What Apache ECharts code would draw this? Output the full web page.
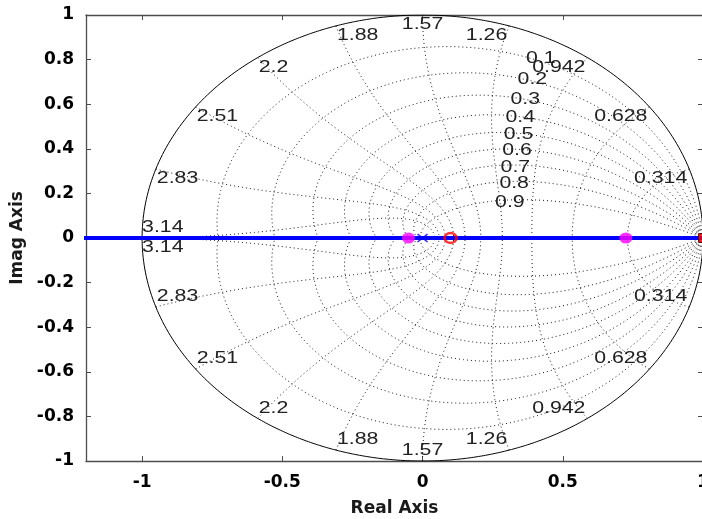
<!DOCTYPE html>
<html>
<head>
<meta charset="utf-8">
<script src="https://cdn.jsdelivr.net/npm/echarts@6/dist/echarts.min.js"></script>
<style>
  html, body { margin: 0; padding: 0; background: #ffffff; }
  #chart { width: 702px; height: 519px; }
</style>
</head>
<body>
<div id="chart"></div>
<script>
// Discrete-time root locus with the z-plane damping / natural-frequency grid.

// Axis ticks
const xTicks = [-1, -0.5, 0, 0.5, 1];
const yTickStep = 0.2;

// Grid: damping ratios and natural frequencies (multiples of pi/10)
const zetaValues = [0.1, 0.2, 0.3, 0.4, 0.5, 0.6, 0.7, 0.8, 0.9];
const wnFactors = [0.1, 0.2, 0.3, 0.4, 0.5, 0.6, 0.7, 0.8, 0.9, 1.0];
const wnLabels = ['0.314', '0.628', '0.942', '1.26', '1.57', '1.88', '2.2', '2.51', '2.83', '3.14'];
// natural frequency along each damping line where its label sits
const zetaLabelWn = [1.15, 1.153, 1.164, 1.176, 1.18, 1.19, 1.21, 1.237, 1.31];

// Root locus branch on the real axis
const locusRe = [-1.25, 1.05];
const locusIm = [0, 0];
// Open-loop pole (x), zero (o), end point (square)
const poleRe = [0];
const zeroRe = [0.1];
const endRe = [1];
// Selected closed-loop poles
const closedLoopRe = [-0.05, 0.725];

const PI = Math.PI;
const AXIS_COLOR = '#4d4d4d';
const DOT_STYLE = { color: '#1a1a1a', width: 1, type: [1, 3] };

function zetaCurve(zeta, sign) {
  const m = zeta / Math.sqrt(1 - zeta * zeta);
  const pts = [];
  const n = 240;
  for (let i = 0; i <= n; i++) {
    const t = PI * i / n;
    const r = Math.exp(-m * t);
    pts.push([r * Math.cos(t), sign * r * Math.sin(t)]);
  }
  return pts;
}

function wnPoint(wn, zeta) {
  const r = Math.exp(-zeta * wn);
  const a = wn * Math.sqrt(1 - zeta * zeta);
  return [r * Math.cos(a), r * Math.sin(a)];
}

function wnCurve(wn, sign) {
  const pts = [];
  const n = 240;
  for (let i = 0; i <= n; i++) {
    const p = wnPoint(wn, i / n);
    pts.push([p[0], sign * p[1]]);
  }
  return pts;
}

function unitCircle() {
  const pts = [];
  for (let i = 0; i <= 720; i++) {
    const a = 2 * PI * i / 720;
    pts.push([Math.cos(a), Math.sin(a)]);
  }
  return pts;
}

const series = [];

function dotted(data) {
  series.push({
    type: 'line', data: data, showSymbol: false, silent: true,
    lineStyle: DOT_STYLE, z: 1
  });
}

zetaValues.forEach(z => { dotted(zetaCurve(z, 1)); dotted(zetaCurve(z, -1)); });
wnFactors.forEach(f => { dotted(wnCurve(f * PI, 1)); dotted(wnCurve(f * PI, -1)); });

series.push({
  type: 'line', data: unitCircle(), showSymbol: false, silent: true,
  lineStyle: { color: '#000000', width: 1 }, z: 2
});

// Grid labels
const gridLabels = [];
zetaValues.forEach((z, i) => {
  const p = wnPoint(zetaLabelWn[i], z);
  gridLabels.push({ pos: p, text: String(z), align: 'left', va: 'middle', dx: 0, dy: 2 });
});
wnFactors.forEach((f, i) => {
  const wn = f * PI;
  const p = wnPoint(wn, 0);
  const text = wnLabels[i];
  let align = 'center', dx = 0;
  if (p[0] > 0.01) { align = 'right'; dx = -2; }
  else if (p[0] < -0.01) { align = 'left'; dx = 1; }
  if (f === 1.0) {
    gridLabels.push({ pos: [p[0], 0], text, align: 'left', va: 'bottom', dx: 0, dy: -2 });
    gridLabels.push({ pos: [p[0], 0], text, align: 'left', va: 'top', dx: 0, dy: 2 });
  } else {
    gridLabels.push({ pos: [p[0], p[1]], text, align, va: 'top', dx, dy: 2 });
    gridLabels.push({ pos: [p[0], -p[1]], text, align, va: 'bottom', dx, dy: -2 });
  }
});

series.push({
  type: 'custom', silent: true, clip: false, z: 6,
  data: gridLabels.map(l => l.pos),
  renderItem: function (params, api) {
    const item = gridLabels[params.dataIndex];
    const c = api.coord([api.value(0), api.value(1)]);
    return {
      type: 'text',
      x: c[0] + item.dx, y: c[1] + item.dy,
      scaleX: 1.33,
      style: {
        text: item.text, fill: '#222222',
        font: '16px "Liberation Sans", Arial, sans-serif',
        align: item.align, verticalAlign: item.va
      }
    };
  }
});

// Locus branch
series.push({
  type: 'line', data: locusRe.map((x, i) => [x, locusIm[i]]),
  showSymbol: false, silent: true,
  lineStyle: { color: '#0000ff', width: 4 }, z: 3
});

// Markers
series.push({
  type: 'scatter', data: closedLoopRe.map(x => [x, 0]), clip: false,
  symbol: 'circle', symbolSize: [13, 11],
  itemStyle: { color: '#ff00ff' }, z: 4
});
series.push({
  type: 'scatter', data: poleRe.map(x => [x, 0]), clip: false,
  symbol: 'path://M0,0L10,8M10,0L0,8', symbolSize: [10, 8],
  itemStyle: { color: 'none', borderColor: '#0000ff', borderWidth: 1.5 }, z: 5
});
series.push({
  type: 'scatter', data: zeroRe.map(x => [x, 0]), clip: false,
  symbol: 'circle', symbolSize: [12, 10],
  itemStyle: { color: 'rgba(0,0,0,0)', borderColor: '#ff0000', borderWidth: 2.5 }, z: 5
});
series.push({
  type: 'scatter', data: endRe.map(x => [x, 0]), clip: false,
  symbol: 'rect', symbolSize: 9,
  itemStyle: { color: '#ff0000', borderColor: '#400000', borderWidth: 1 }, z: 5
});

const tickFont = { fontFamily: 'DejaVu Sans', fontWeight: 'bold', fontSize: 17, color: '#000000' };
const nameFont = { fontFamily: 'DejaVu Sans', fontWeight: 'bold', fontSize: 17, color: '#1a1a1a' };

function fmt(v) { return String(+v.toFixed(2)); }

const option = {
  animation: false,
  backgroundColor: '#ffffff',
  grid: { left: 86, top: 15, width: 617, height: 446, containLabel: false, outerBoundsMode: 'none' },
  xAxis: [
    {
      type: 'value', position: 'bottom', min: -1.2, max: 1,
      axisLine: { show: true, onZero: false, lineStyle: { color: AXIS_COLOR, width: 1.3 } },
      axisTick: { show: true, inside: true, length: 5, customValues: xTicks, lineStyle: { color: AXIS_COLOR } },
      axisLabel: Object.assign({ customValues: xTicks, margin: 13, formatter: fmt }, tickFont),
      splitLine: { show: false },
      name: 'Real Axis', nameLocation: 'middle', nameGap: 39, nameTextStyle: nameFont
    },
    {
      type: 'value', position: 'top', min: -1.2, max: 1,
      axisLine: { show: true, onZero: false, lineStyle: { color: AXIS_COLOR, width: 1.3 } },
      axisTick: { show: true, inside: true, length: 5, customValues: xTicks, lineStyle: { color: AXIS_COLOR } },
      axisLabel: { show: false },
      splitLine: { show: false }
    }
  ],
  yAxis: [
    {
      type: 'value', position: 'left', min: -1, max: 1, interval: yTickStep,
      axisLine: { show: true, onZero: false, lineStyle: { color: AXIS_COLOR, width: 1.3 } },
      axisTick: { show: true, inside: true, length: 5, lineStyle: { color: AXIS_COLOR } },
      axisLabel: Object.assign({ margin: 12, formatter: fmt }, tickFont),
      splitLine: { show: false },
      name: 'Imag Axis', nameLocation: 'middle', nameGap: 56, nameTextStyle: nameFont
    },
    {
      type: 'value', position: 'right', min: -1, max: 1, interval: yTickStep,
      axisLine: { show: true, onZero: false, lineStyle: { color: AXIS_COLOR, width: 1.3 } },
      axisTick: { show: true, inside: true, length: 5, lineStyle: { color: AXIS_COLOR } },
      axisLabel: { show: false },
      splitLine: { show: false }
    }
  ],
  series: series
};

const chart = echarts.init(document.getElementById('chart'), null, { renderer: 'canvas' });
chart.setOption(option);
</script>
</body>
</html>
